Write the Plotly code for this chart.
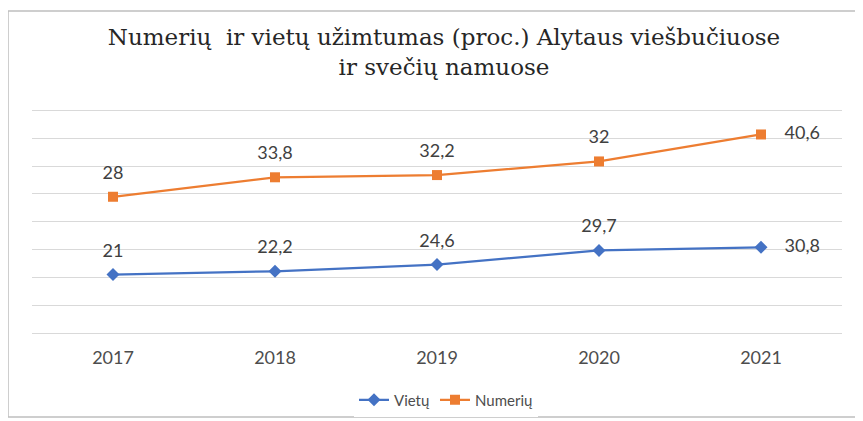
import plotly.graph_objects as go

years = ["2017", "2018", "2019", "2020", "2021"]
vietu = [21, 22.2, 24.6, 29.7, 30.8]
numeriu = [28, 33.8, 32.2, 32, 40.6]

BLUE = "#4472C4"
ORANGE = "#ED7D31"
GRID = "#D9D9D9"
TEXT = "#4D4D4D"
SANS = "Lato, Open Sans, sans-serif"


def fmt(v):
    return f"{v:g}".replace(".", ",")


# Excel "stacked line" chart: the orange line sits on top of the blue one
numeriu_top = [a + b for a, b in zip(vietu, numeriu)]

label_pos = ["top center"] * 4 + ["middle right"]
label_gap = [20, 20, 20, 20, 36]  # invisible marker sizes that push labels off the points

fig = go.Figure()
fig.add_trace(go.Scatter(
    x=years, y=vietu, name="Vietų", stackgroup="s", fill="none",
    mode="lines+markers",
    line=dict(color=BLUE, width=2.25),
    marker=dict(symbol="diamond", size=10, color=BLUE),
))
fig.add_trace(go.Scatter(
    x=years, y=numeriu, name="Numerių", stackgroup="s", fill="none",
    mode="lines+markers",
    line=dict(color=ORANGE, width=2.25),
    marker=dict(symbol="square", size=10, color=ORANGE),
))
for ys, vals in ((vietu, vietu), (numeriu_top, numeriu)):
    fig.add_trace(go.Scatter(
        x=years, y=ys, mode="markers+text", showlegend=False, hoverinfo="skip",
        marker=dict(size=label_gap, opacity=0),
        text=[fmt(v) for v in vals], textposition=label_pos,
        textfont=dict(size=18, color="#404040", family=SANS),
    ))

# page body has an 8px margin, so the figure is drawn 8px smaller and all
# screen targets are shifted by OFF
OFF = 8
W, H = 863 - OFF, 421 - OFF
Y_MAX = 82
L = 32 - OFF
R = W - (842 - OFF)
B = H - (333 - OFF)
ph = (333 - 111) * Y_MAX / 80
T = round(H - B - ph)
pw = W - L - R
ph = H - T - B


def px_x(p):
    return (p - OFF - L) / pw


def px_y(p):
    return (H - B - (p - OFF)) / ph


fig.update_layout(
    width=W, height=H,
    margin=dict(l=L, r=R, t=T, b=B, autoexpand=False),
    paper_bgcolor="white", plot_bgcolor="white",
    font=dict(family=SANS, color=TEXT),
    title=dict(
        text="Numerių  ir vietų užimtumas (proc.) Alytaus viešbučiuose<br>ir svečių namuose",
        font=dict(family="DejaVu Serif, Liberation Serif, serif", size=23, color="#262626"),
        x=(444 - OFF) / W, xanchor="center", y=1 - 37 / H, yanchor="top",
    ),
    xaxis=dict(
        range=[-0.5, 4.5],
        showgrid=False, showline=True, linecolor=GRID, linewidth=1,
        ticks="", ticklabelstandoff=8, tickfont=dict(size=18, color=TEXT),
    ),
    yaxis=dict(
        range=[0, Y_MAX], dtick=10, showticklabels=False,
        showgrid=True, gridcolor=GRID, gridwidth=1, zeroline=False,
    ),
    legend=dict(
        orientation="h", x=px_x(446), xanchor="center", y=px_y(400), yanchor="middle",
        font=dict(size=15, color=TEXT),
    ),
    shapes=[dict(
        type="rect", xref="paper", yref="paper",
        x0=px_x(8), x1=px_x(860), y0=px_y(417), y1=px_y(11),
        line=dict(color="#BFBFBF", width=1.5), layer="below",
    )],
)

fig.write_html("out.html")
